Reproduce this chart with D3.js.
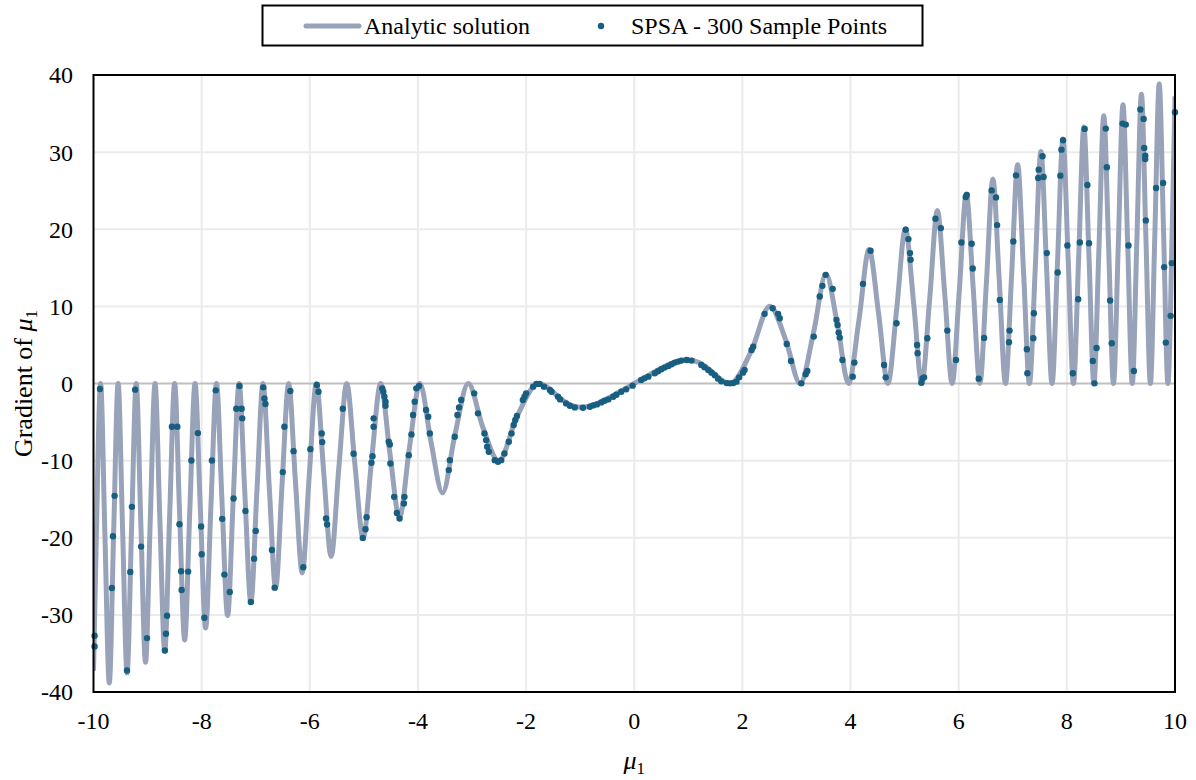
<!DOCTYPE html>
<html>
<head>
<meta charset="utf-8">
<script src="https://cdn.jsdelivr.net/npm/d3@7"></script>
<style>
  body { margin: 0; background: #fff; }
  svg text { font-family: "Liberation Serif", "Times New Roman", serif; fill: #000; }
</style>
</head>
<body>
<script>
// Analytic solution: key points (zeros, half heights, peaks)
const analyticX = [
  -10, -9.948, -9.869, -9.789, -9.708, -9.627, -9.545, -9.462, -9.379, -9.295, -9.210,
  -9.124, -9.038, -8.951, -8.862, -8.773, -8.683, -8.592, -8.500, -8.408, -8.314,
  -8.219, -8.122, -8.025, -7.927, -7.827, -7.726, -7.624, -7.520, -7.415, -7.308,
  -7.200, -7.090, -6.978, -6.865, -6.749, -6.632, -6.512, -6.391, -6.267, -6.140,
  -6.011, -5.879, -5.743, -5.605, -5.463, -5.317, -5.168, -5.013, -4.854, -4.690,
  -4.519, -4.342, -4.157, -3.963, -3.760, -3.545, -3.316, -3.070, -2.803, -2.507,
  -2.171, -1.772, -1.6, -1.4, -1.2, -0.97, -0.7, -0.5, -0.3,
  0,
  0.3, 0.5, 0.7, 0.97, 1.2, 1.4, 1.6, 1.772, 2.171, 2.507, 2.803, 3.070, 3.316,
  3.545, 3.760, 3.963, 4.157, 4.342, 4.519, 4.690, 4.854, 5.013, 5.168, 5.317,
  5.463, 5.605, 5.743, 5.879, 6.011, 6.140, 6.267, 6.391, 6.512, 6.632, 6.749,
  6.865, 6.978, 7.090, 7.200, 7.308, 7.415, 7.520, 7.624, 7.726, 7.827, 7.927,
  8.025, 8.122, 8.219, 8.314, 8.408, 8.500, 8.592, 8.683, 8.773, 8.862, 8.951,
  9.038, 9.124, 9.210, 9.295, 9.379, 9.462, 9.545, 9.627, 9.708, 9.789, 9.869,
  9.948, 10
];
const analyticY = [
  -37.25, -19.90, 0, -19.58, -38.83, -19.25, 0, -18.93, -37.52, -18.59, 0,
  -18.25, -36.15, -17.90, 0, -17.55, -34.73, -17.19, 0, -16.82, -33.25,
  -16.44, 0, -16.05, -31.71, -15.65, 0, -15.25, -30.08, -14.83, 0,
  -14.40, -28.36, -13.96, 0, -13.50, -26.53, -13.02, 0, -12.53, -24.56,
  -12.02, 0, -11.49, -22.42, -10.93, 0, -10.34, -20.05, -9.71, 0,
  -9.04, -17.37, -8.31, 0, -7.52, -14.18, -6.63, 0, -5.61, -10.03,
  -4.34, 0, -0.53, -1.74, -2.71, -3.08, -2.63, -1.97, -1.20,
  0,
  1.20, 1.97, 2.63, 3.08, 2.71, 1.74, 0.53, 0, 4.34, 10.03, 5.61, 0, 6.63,
  14.18, 7.52, 0, 8.31, 17.37, 9.04, 0, 9.71, 20.05, 10.34, 0,
  10.93, 22.42, 11.49, 0, 12.02, 24.56, 12.53, 0, 13.02, 26.53, 13.50,
  0, 13.96, 28.36, 14.40, 0, 14.83, 30.08, 15.25, 0, 15.65, 31.71,
  16.05, 0, 16.44, 33.25, 16.82, 0, 17.19, 34.73, 17.55, 0, 17.90,
  36.15, 18.25, 0, 18.59, 37.52, 18.93, 0, 19.25, 38.83, 19.58, 0,
  19.90, 37.25
];

// SPSA sample points
const sampleX = [
  -9.98, -9.98, -9.88, -9.66, -9.64, -9.61, -9.38, -9.32, -9.29, -9.23, -9.12, -9.01,
  -8.68, -8.66, -8.64, -8.55, -8.45, -8.41, -8.38, -8.37, -8.25, -8.19, -8.07, -8.01,
  -8.00, -7.95, -7.81, -7.74, -7.62, -7.58, -7.48,
  -7.41, -7.36, -7.30, -7.26, -7.25, -7.19, -7.09, -7.03, -7.00, -6.86, -6.84, -6.82,
  -6.70, -6.65, -6.50, -6.47, -6.36, -6.30, -6.12, -5.99, -5.87, -5.84, -5.78, -5.77,
  -5.70, -5.68, -5.39, -5.19, -5.02, -4.97, -4.95, -4.86, -4.84, -4.82, -4.82,
  -4.66, -4.64, -4.62, -4.60, -4.60, -4.54, -4.52, -4.51, -4.44, -4.39, -4.34, -4.26,
  -4.25, -4.17, -4.12, -4.09, -4.06, -4.03, -3.98, -3.85, -3.81, -3.78, -3.43, -3.41,
  -3.32, -3.27, -3.24, -3.20, -2.96, -2.89, -2.77, -2.74, -2.72, -2.69, -2.58, -2.52,
  -2.46, -2.40, -2.32, -2.27, -2.23, -2.20, -2.17, -2.06, -2.03, -2.00, -1.87, -1.81,
  -1.75, -1.67, -1.56, -1.53, -1.41, -1.37, -1.26, -1.19, -1.10, -0.95, -0.82, -0.76,
  -0.69, -0.61, -0.55, -0.48, -0.39, -0.33, -0.24, -0.15, -0.03, 0.13, 0.19, 0.26,
  0.38, 0.44, 0.50, 0.56, 0.63, 0.69, 0.75, 0.81, 0.87, 0.97, 1.06, 1.24,
  1.30, 1.37, 1.43, 1.49, 1.55, 1.61, 1.71, 1.77, 1.83, 1.89, 1.94, 2.01,
  2.04, 2.17, 2.20, 2.41, 2.56, 2.66, 2.69, 2.82, 2.90,
  3.09, 3.17, 3.20, 3.32, 3.43, 3.48, 3.54, 3.67, 3.74, 3.76, 3.78, 3.80,
  3.85, 4.04, 4.07, 4.23, 4.37, 4.62, 4.65, 4.85,
  5.02, 5.07, 5.10, 5.11, 5.23, 5.24, 5.31, 5.33, 5.36, 5.42, 5.57, 5.67,
  5.79, 5.95, 6.05, 6.13, 6.15, 6.24, 6.26, 6.37, 6.47, 6.61, 6.69, 6.71,
  6.76, 6.93, 6.94, 7.01, 7.06, 7.26, 7.27, 7.38, 7.39,
  7.47, 7.48, 7.55, 7.57, 7.63, 7.83, 7.88, 7.90, 7.93, 8.01, 8.11, 8.21,
  8.24, 8.33, 8.38, 8.41, 8.48, 8.51, 8.55, 8.72, 8.74, 8.80, 8.83, 9.03,
  9.09, 9.14, 9.24, 9.36, 9.42, 9.43, 9.45, 9.45, 9.46, 9.65, 9.78, 9.80,
  9.83, 9.92, 9.94, 10.00
];
const sampleY = [
  -32.71, -34.09, -0.71, -26.52, -19.81, -14.57, -37.21, -24.44, -16.00, -0.80, -21.15, -33.01,
  -34.61, -32.45, -30.11, -5.61, -5.61, -18.25, -24.35, -26.78, -24.39, -9.98, -6.43, -18.55,
  -22.14, -30.37, -9.98, -0.89, -17.55, -24.78, -27.03,
  -14.91, -3.27, -0.32, -3.27, -4.52, -16.52, -28.33, -22.71, -19.11, -0.50, -1.93, -2.66,
  -21.58, -26.47, -11.49, -5.61, -0.97, -8.77, -23.83, -8.51, -0.19, -1.06, -6.47, -7.60,
  -17.51, -18.29, -3.27, -9.11, -20.02, -18.90, -17.34, -10.28, -9.42, -4.52, -5.61,
  -0.63, -1.06, -1.71, -2.36, -2.88, -7.55, -7.90, -10.37, -14.70, -16.78, -17.51, -15.56,
  -14.70, -9.29, -6.60, -4.09, -2.36, -0.63, -0.32, -3.44, -4.31, -6.47, -11.23, -9.94,
  -6.90, -4.09, -3.10, -2.14, -1.28, -3.87, -6.47, -7.34, -8.20, -8.85, -9.94, -10.15,
  -9.94, -9.07, -7.55, -6.47, -5.39, -4.74, -4.22, -2.14, -1.71, -1.28, -0.41, -0.05,
  -0.05, -0.41, -0.84, -1.06, -1.71, -2.06, -2.58, -2.88, -3.10, -3.14, -3.01, -2.84,
  -2.71, -2.45, -2.23, -2.06, -1.71, -1.45, -1.06, -0.76, -0.28, 0.45, 0.67, 0.89,
  1.32, 1.58, 1.84, 2.06, 2.27, 2.49, 2.71, 2.84, 2.97, 3.05, 2.97, 2.40,
  2.10, 1.75, 1.41, 1.06, 0.63, 0.28, 0.05, 0.02, 0.05, 0.24, 0.80, 1.41,
  1.75, 4.35, 4.78, 9.03, 9.76, 9.03, 8.46, 5.13, 2.92,
  0.02, 1.19, 1.62, 6.08, 11.28, 12.66, 14.09, 12.27, 8.25, 7.60, 6.60, 5.95,
  3.05, 0.89, 2.71, 12.92, 17.21, 2.40, 0.80, 7.81,
  19.94, 18.72, 16.91, 16.04, 5.00, 3.92, 0.11, 0.67, 0.80, 5.87, 21.36, 20.15,
  6.86, 3.05, 18.29, 24.18, 24.44, 18.12, 14.91, 0.63, 5.91, 25.04, 24.13, 20.54,
  10.84, 5.35, 6.86, 18.42, 26.99, 4.44, 1.32, 5.87, 9.11,
  26.65, 27.73, 29.46, 26.78, 16.91, 14.39, 26.95, 30.32, 31.54, 17.90, 1.32, 10.93,
  18.29, 33.01, 25.74, 18.20, 2.92, 0.02, 4.61, 33.05, 28.03, 10.76, 5.22, 33.70,
  33.57, 17.90, 1.62, 35.52, 34.31, 30.54, 29.55, 29.11, 21.15, 25.35, 26.00, 15.09,
  5.30, 8.77, 15.61, 35.17
];

// Axis ticks
const xTicks = [-10, -8, -6, -4, -2, 0, 2, 4, 6, 8, 10];
const yTicks = [-40, -30, -20, -10, 0, 10, 20, 30, 40];

const width = 1196;
const height = 780;
const plot = { left: 93.5, right: 1175, top: 75, bottom: 692 };
const lineColor = '#98a3b9';
const dotColor = '#175e80';

const svg = d3.select('body')
  .append('svg')
  .attr('width', width)
  .attr('height', height);

const x = d3.scaleLinear().domain([-10, 10]).range([plot.left, plot.right]);
const y = d3.scaleLinear().domain([-40, 40]).range([plot.bottom, plot.top]);

// Grid lines
svg.append('g')
  .selectAll('line')
  .data(xTicks.slice(1, -1))
  .join('line')
  .attr('x1', d => x(d)).attr('x2', d => x(d))
  .attr('y1', plot.top).attr('y2', plot.bottom)
  .attr('stroke', '#ebebeb')
  .attr('stroke-width', 2);

svg.append('g')
  .selectAll('line')
  .data(yTicks.filter(d => d !== 0 && d !== -40 && d !== 40))
  .join('line')
  .attr('x1', plot.left).attr('x2', plot.right)
  .attr('y1', d => y(d)).attr('y2', d => y(d))
  .attr('stroke', '#ebebeb')
  .attr('stroke-width', 2);

// Zero line
svg.append('line')
  .attr('x1', plot.left).attr('x2', plot.right)
  .attr('y1', y(0)).attr('y2', y(0))
  .attr('stroke', '#bfbfbf')
  .attr('stroke-width', 2);

// Clip for the curve
svg.append('clipPath')
  .attr('id', 'plot-clip')
  .append('rect')
  .attr('x', plot.left).attr('y', plot.top)
  .attr('width', plot.right - plot.left)
  .attr('height', plot.bottom - plot.top);

const analytic = analyticX.map((d, i) => [d, analyticY[i]]);

const line = d3.line()
  .x(d => x(d[0]))
  .y(d => y(d[1]))
  .curve(d3.curveMonotoneX);

svg.append('path')
  .datum(analytic)
  .attr('clip-path', 'url(#plot-clip)')
  .attr('d', line)
  .attr('fill', 'none')
  .attr('stroke', lineColor)
  .attr('stroke-width', 5)
  .attr('stroke-linejoin', 'round');

// Sample points
svg.append('g')
  .selectAll('circle')
  .data(sampleX.map((d, i) => [d, sampleY[i]]))
  .join('circle')
  .attr('cx', d => x(d[0]))
  .attr('cy', d => y(d[1]))
  .attr('r', 3.2)
  .attr('fill', dotColor);

// Plot frame
svg.append('rect')
  .attr('x', plot.left).attr('y', plot.top)
  .attr('width', plot.right - plot.left)
  .attr('height', plot.bottom - plot.top)
  .attr('fill', 'none')
  .attr('stroke', '#000')
  .attr('stroke-width', 2);

// Tick labels
svg.append('g')
  .selectAll('text')
  .data(yTicks)
  .join('text')
  .attr('x', 73)
  .attr('y', d => y(d))
  .attr('dy', '0.35em')
  .attr('text-anchor', 'end')
  .style('font-size', '24px')
  .text(d => d);

svg.append('g')
  .selectAll('text')
  .data(xTicks)
  .join('text')
  .attr('x', d => x(d))
  .attr('y', 729)
  .attr('text-anchor', 'middle')
  .style('font-size', '24px')
  .text(d => d);

// Axis titles
const yTitle = svg.append('text')
  .attr('transform', `translate(32, ${y(0)}) rotate(-90)`)
  .attr('text-anchor', 'middle')
  .style('font-size', '26px');
yTitle.append('tspan').text('Gradient of ');
yTitle.append('tspan').style('font-style', 'italic').text('μ');
yTitle.append('tspan').attr('dy', 5).style('font-size', '17px').text('1');

const xTitle = svg.append('text')
  .attr('x', x(0))
  .attr('y', 769)
  .attr('text-anchor', 'middle')
  .style('font-size', '26px');
xTitle.append('tspan').style('font-style', 'italic').text('μ');
xTitle.append('tspan').attr('dy', 5).style('font-size', '17px').text('1');

// Legend
const legend = svg.append('g');

legend.append('rect')
  .attr('x', 262.5).attr('y', 5.5)
  .attr('width', 660).attr('height', 40)
  .attr('fill', '#fff')
  .attr('stroke', '#000')
  .attr('stroke-width', 2);

legend.append('line')
  .attr('x1', 306).attr('x2', 359)
  .attr('y1', 26).attr('y2', 26)
  .attr('stroke', lineColor)
  .attr('stroke-width', 5)
  .attr('stroke-linecap', 'round');

legend.append('text')
  .attr('x', 364).attr('y', 34)
  .style('font-size', '24px')
  .text('Analytic solution');

legend.append('circle')
  .attr('cx', 601).attr('cy', 26)
  .attr('r', 3.2)
  .attr('fill', dotColor);

legend.append('text')
  .attr('x', 631).attr('y', 34)
  .style('font-size', '24px')
  .text('SPSA - 300 Sample Points');
</script>
</body>
</html>
